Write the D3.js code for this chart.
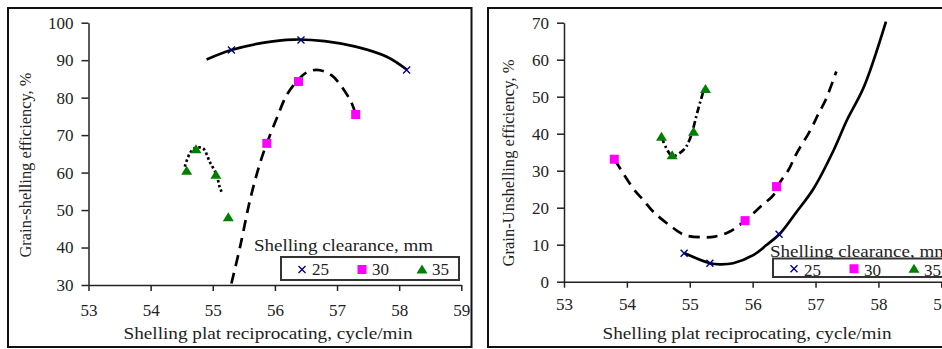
<!DOCTYPE html>
<html>
<head>
<meta charset="utf-8">
<title>Shelling charts</title>
<script src="https://cdn.jsdelivr.net/npm/d3@7"></script>
<style>
  body { margin: 0; background: #fff; }
  svg text { font-family: "Liberation Serif", "Times New Roman", Times, serif !important; }
  .axis path, .axis line { stroke: #222; stroke-width: 1.5px; }
</style>
</head>
<body>
<svg id="chart" width="942" height="349"></svg>
<script>
// ---- data ----
var clearances = ["25", "30", "35"];
var xTicks = [53, 54, 55, 56, 57, 58, 59];

// left: grain-shelling efficiency
var shell25 = [[55.30, 92.7], [56.42, 95.4], [58.12, 87.4]];
var shell30 = [[55.87, 67.8], [56.38, 84.3], [57.30, 75.5]];
var shell35 = [[54.58, 60.5], [54.73, 66.2], [55.05, 59.4], [55.25, 48.1]];
var shellTrend25 = [[54.9, 90.2], [55.3, 92.7], [55.8, 94.6], [56.3, 95.5], [56.8, 95.1], [57.3, 93.6], [57.8, 90.9], [58.12, 87.5]];
var shellTrend30 = [[55.30, 30.4], [55.44, 40.2], [55.60, 52.7], [55.76, 62.5], [55.87, 67.8], [56.03, 74.5], [56.19, 80.7], [56.35, 84.3], [56.5, 86.6], [56.67, 87.4], [56.91, 86.0], [57.21, 79.4], [57.30, 75.6]];
var shellTrend35 = [[54.55, 61.6], [54.63, 65.1], [54.71, 66.5], [54.84, 66.5], [54.95, 62.9], [55.06, 59.4], [55.11, 56.2], [55.14, 54.9]];

// right: grain-unshelling efficiency
var unshell25 = [[54.91, 7.7], [55.32, 5.0], [56.42, 12.8]];
var unshell30 = [[53.80, 33.1], [55.88, 16.5], [56.38, 25.7]];
var unshell35 = [[54.55, 39.2], [54.72, 34.2], [55.06, 40.5], [55.25, 52.1]];
var unshellTrend25 = [[54.92, 7.7], [55.32, 5.0], [55.48, 4.7], [55.69, 5.0], [56.01, 7.2], [56.22, 9.9], [56.44, 13.1], [56.70, 18.9], [56.97, 25.2], [57.29, 35.6], [57.50, 43.7], [57.77, 52.7], [58.12, 70.3]];
var unshellTrend30 = [[53.81, 32.9], [54.10, 25.2], [54.26, 22.1], [54.42, 18.9], [54.69, 15.1], [54.92, 12.6], [55.21, 12.0], [55.40, 12.2], [55.63, 13.5], [55.88, 16.5], [56.14, 20.5], [56.33, 23.4], [56.44, 27.0], [56.57, 30.2], [56.70, 34.7], [56.92, 41.0], [57.05, 45.5], [57.16, 49.1], [57.33, 56.8]];
var unshellTrend35 = [[54.55, 39.2], [54.72, 34.0], [54.90, 35.6], [55.00, 38.5], [55.13, 46.4], [55.23, 52.3]];

var FONT = "'Liberation Serif', 'Times New Roman', Times, serif";
var svg = d3.select("#chart");

var markerColor = { "25": "#000080", "30": "#ff00ff", "35": "#008000" };

function drawMarker(g, kind, x, y) {
  if (kind === "25") {
    var s = 3.5;
    g.append("path")
      .attr("d", "M" + (x - s) + "," + (y - s) + "L" + (x + s) + "," + (y + s) + "M" + (x - s) + "," + (y + s) + "L" + (x + s) + "," + (y - s))
      .attr("stroke", markerColor[kind]).attr("stroke-width", 1.4).attr("fill", "none");
  } else if (kind === "30") {
    g.append("rect").attr("x", x - 4.5).attr("y", y - 4.5).attr("width", 9).attr("height", 9)
      .attr("fill", markerColor[kind]);
  } else {
    g.append("path")
      .attr("d", "M" + x + "," + (y - 5) + "L" + (x + 5.5) + "," + (y + 4) + "L" + (x - 5.5) + "," + (y + 4) + "Z")
      .attr("fill", markerColor[kind]);
  }
}

function label(g, x, y, str, len, size) {
  var t = g.append("text").attr("x", x).attr("y", y)
    .style("font-family", FONT).style("font-size", (size || 17) + "px").attr("fill", "#222").text(str);
  if (len) t.attr("textLength", len).attr("lengthAdjust", "spacingAndGlyphs");
  return t;
}

function drawPanel(p) {
  var g = svg.append("g");
  g.append("rect").attr("x", p.box[0]).attr("y", p.box[1]).attr("width", p.box[2]).attr("height", p.box[3])
    .attr("fill", "none").attr("stroke", "#111").attr("stroke-width", 2);

  var x = d3.scaleLinear().domain([53, 59]).range([p.left, p.right]);
  var y = d3.scaleLinear().domain(p.yDomain).range([p.bottom, p.top]);

  g.append("g").attr("class", "axis").attr("transform", "translate(0," + p.bottom + ")")
    .call(d3.axisBottom(x).tickValues(xTicks).tickFormat(d3.format("d")).tickSize(6).tickPadding(p.xPad).tickSizeOuter(0))
    .attr("font-family", FONT)
    .call(a => a.selectAll("text").style("font-size", "17px").attr("fill", "#222"));

  g.append("g").attr("class", "axis").attr("transform", "translate(" + p.left + ",0)")
    .call(d3.axisLeft(y).tickValues(p.yTicks).tickFormat(d3.format("d")).tickSize(7).tickPadding(8).tickSizeOuter(0))
    .attr("font-family", FONT)
    .call(a => a.selectAll("text").style("font-size", "17px").attr("fill", "#222"));

  label(g, p.xTitleX, p.xTitleY, "Shelling plat reciprocating, cycle/min", 289).attr("text-anchor", "middle");
  label(g, 0, 0, p.yTitle, p.yTitleLen).attr("text-anchor", "middle")
    .attr("transform", "translate(" + p.yTitleX + "," + p.yTitleY + ") rotate(-90)");

  var plot = g.append("g");
  var line = d3.line().x(d => x(d[0])).y(d => y(d[1])).curve(d3.curveCatmullRom);
  var styles = [
    { trend: p.trends[0], dash: null },
    { trend: p.trends[1], dash: "11,7" },
    { trend: p.trends[2], dash: p.dash35 }
  ];
  styles.forEach(s => {
    plot.append("path").attr("d", line(s.trend)).attr("fill", "none")
      .attr("stroke", "#000").attr("stroke-width", 2.7)
      .attr("stroke-dasharray", s.dash);
  });
  p.points.forEach((pts, i) => {
    pts.forEach(d => drawMarker(plot, clearances[i], x(d[0]), y(d[1])));
  });

  // legend
  var L = p.legend;
  label(g, L.titleX, L.titleY, "Shelling clearance, mm", 179);
  g.append("rect").attr("x", L.x).attr("y", L.y).attr("width", 178).attr("height", L.h)
    .attr("fill", "#fff").attr("stroke", "#333").attr("stroke-width", 2);
  clearances.forEach((c, i) => {
    var mx = L.x + 21 + i * 60;
    drawMarker(g, c, mx, L.y + L.h / 2 + 1);
    label(g, mx + 10, L.textY, c, null, 17);
  });
}

drawPanel({
  box: [8, 8, 463.5, 339],
  left: 88.5, right: 461.3, top: 22.7, bottom: 285,
  yDomain: [30, 100], yTicks: [30, 40, 50, 60, 70, 80, 90, 100],
  xPad: 13,
  xTitleX: 268, xTitleY: 339,
  yTitle: "Grain-shelling efficiency, %", yTitleLen: 185, yTitleX: 31, yTitleY: 165,
  trends: [shellTrend25, shellTrend30, shellTrend35],
  points: [shell25, shell30, shell35],
  dash35: "2.5,2.5",
  legend: { titleX: 254, titleY: 251, x: 281, y: 257, h: 23, textY: 275 }
});

drawPanel({
  box: [488, 8, 470, 339],
  left: 564, right: 941.3, top: 22.7, bottom: 281.7,
  yDomain: [0, 70], yTicks: [0, 10, 20, 30, 40, 50, 60, 70],
  xPad: 10,
  xTitleX: 747, xTitleY: 339,
  yTitle: "Grain-Unshelling efficiency, %", yTitleLen: 207, yTitleX: 514, yTitleY: 163,
  trends: [unshellTrend25, unshellTrend30, unshellTrend35],
  points: [unshell25, unshell30, unshell35],
  dash35: "7,3,2,3",
  legend: { titleX: 770, titleY: 257, x: 773, y: 258.5, h: 18.5, textY: 276 }
});
</script>
</body>
</html>
